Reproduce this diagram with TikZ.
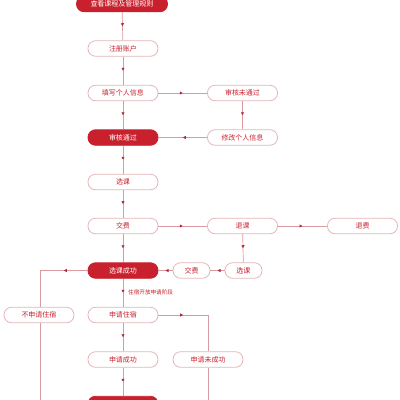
\documentclass[tikz,border=0pt]{standalone}
\usepackage{fontspec}
\setmainfont{Noto Sans CJK SC}
\usetikzlibrary{decorations.markings,arrows.meta}
\definecolor{cred}{HTML}{C8202C}
\definecolor{cline}{HTML}{D99AA0}
\definecolor{cborder}{HTML}{E2B5B9}
\definecolor{carr}{HTML}{B52A35}
\tikzset{
 box/.style={draw=cborder, line width=0.8pt, rounded corners=7.5pt, minimum width=70pt, minimum height=15.5pt, inner sep=0pt, text=cred, font=\fontsize{7}{8}\selectfont},
 sbox/.style={box, minimum width=37pt},
 fbox/.style={box, fill=cred, draw=cred, text=white},
 conn/.style={draw=cline, line width=0.7pt},
 marr/.style={conn, postaction=decorate, decoration={markings, mark=at position 0.5 with {\arrow{Triangle[length=3pt,width=3pt,color=carr]}}}}
}
\begin{document}
\begin{tikzpicture}[x=1pt,y=-1pt]
\useasboundingbox (0,0) rectangle (400,400);
\clip (0,0) rectangle (400,400);
% main column
\node[fbox, minimum width=91pt] (top) at (122,4) {查看课程及管理规则};
\node[box] (reg) at (123,48.5) {注册账户};
\node[box] (fill) at (123,93) {填写个人信息};
\node[fbox] (pass) at (123,137.5) {审核通过};
\node[box] (sel) at (123,182) {选课};
\node[box] (pay) at (123,226) {交费};
\node[fbox] (ok) at (123,270.5) {选课成功};
\node[box] (apply) at (123,315) {申请住宿};
\node[box] (asucc) at (123,359.5) {申请成功};
\node[fbox] (fin) at (123,404) {};
% right side
\node[box] (fail) at (242.5,93) {审核未通过};
\node[box] (mod) at (242.5,137.5) {修改个人信息};
\node[box] (drop) at (242.5,226) {退课};
\node[box] (refund) at (362.5,226) {退费};
\node[sbox] (sel2) at (243.5,270.5) {选课};
\node[sbox] (pay2) at (191.5,270.5) {交费};
\node[box] (afail) at (208,359.5) {申请未成功};
% left side
\node[box] (nosh) at (39,315) {不申请住宿};
\node[anchor=west, inner sep=0pt, text=cred, font=\fontsize{5.6}{6}\selectfont] (lab) at (128,292.5) {住宿开放申请阶段};
% coordinates
\coordinate (lc) at (40,270.5);
\coordinate (lb) at (40,420);
\coordinate (rc) at (208,315);
\coordinate (rb) at (208,420);
% connectors
\draw[marr] (top) -- (reg);
\draw[marr] (reg) -- (fill);
\draw[marr] (fill) -- (pass);
\draw[marr] (pass) -- (sel);
\draw[marr] (sel) -- (pay);
\draw[marr] (pay) -- (ok);
\draw[marr] (ok) -- (apply);
\draw[marr] (apply) -- (asucc);
\draw[marr] (asucc) -- (fin);
\draw[marr] (fill) -- (fail);
\draw[marr] (fail) -- (mod);
\draw[marr] (mod) -- (pass);
\draw[marr] (pay) -- (drop);
\draw[marr] (drop) -- (refund);
\draw[marr] (drop) -- (sel2);
\draw[marr] (sel2) -- (pay2);
\draw[marr] (pay2) -- (ok);
\draw[marr] (ok.west) -- (lc);
\draw[conn] (lc) -- (nosh.north -| lc);
\draw[conn] (nosh.south -| lc) -- (lb);
\draw[marr] (apply.east) -- (rc);
\draw[conn] (rc) -- (afail);
\draw[conn] (afail) -- (rb);
\end{tikzpicture}
\end{document}
